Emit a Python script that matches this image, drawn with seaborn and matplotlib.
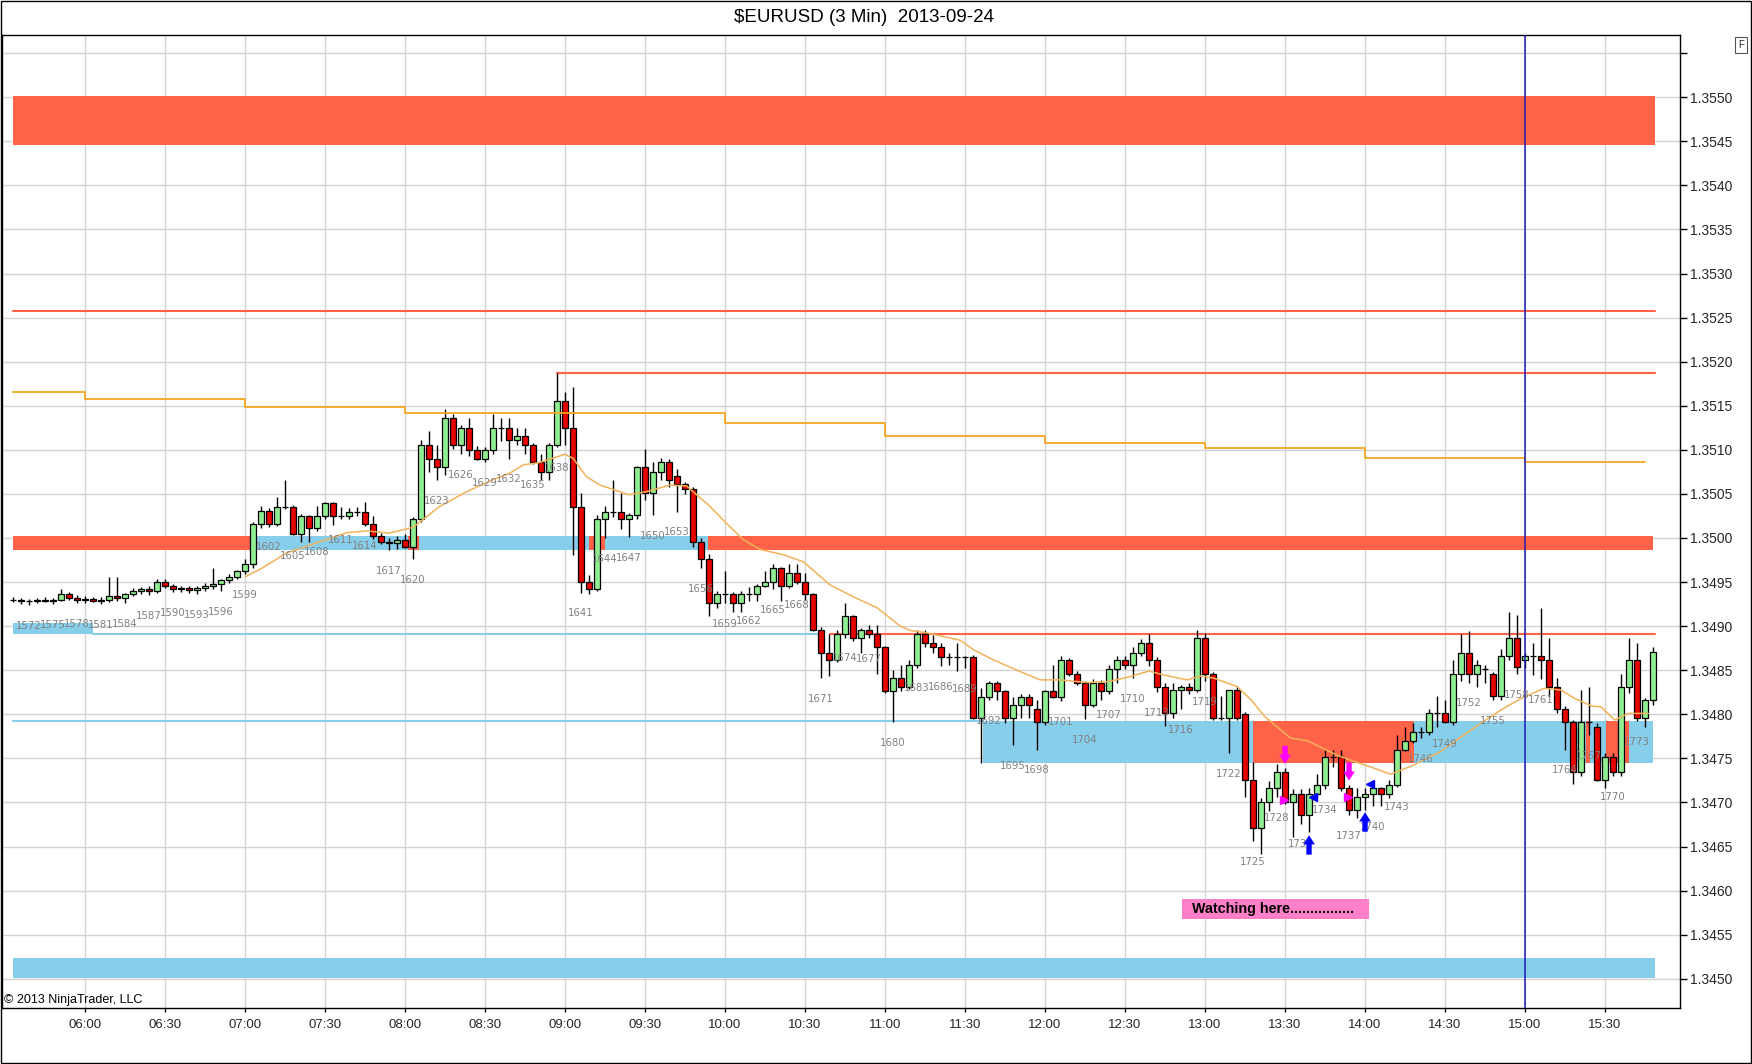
import numpy as np
import seaborn as sns
import matplotlib.pyplot as plt
from matplotlib.patches import Rectangle

# 3 minute bars numbered 1570..1775, bar 1599 is the 07:00 bar
bar_first = 1570
bar_0700 = 1599

# prices, in pips above 1.3400
opens = [93.0, 93.0, 92.9, 92.8, 93.0, 92.9, 93.0, 93.7, 93.2, 93.0,
         93.1, 92.9, 93.0, 93.4, 93.2, 93.7, 94.0, 94.2, 94.0, 95.0,
         94.5, 94.2, 94.3, 94.1, 94.3, 94.6, 94.8, 95.2, 95.6, 96.2,
         97.0, 101.6, 103.1, 101.6, 103.5, 103.5, 100.5, 102.5, 101.1, 102.5,
         104.0, 102.5, 102.5, 103.0, 103.0, 101.6, 100.2, 99.6, 99.4, 99.8,
         99.0, 102.1, 110.5, 109.0, 108.0, 113.6, 110.5, 112.5, 110.0, 109.0,
         110.0, 112.5, 112.5, 111.1, 111.6, 110.6, 108.6, 107.5, 110.5, 115.5,
         112.5, 103.5, 95.0, 94.2, 102.1, 103.0, 103.0, 102.1, 102.6, 108.0,
         105.1, 107.5, 108.6, 107.0, 106.1, 105.6, 99.6, 97.6, 92.6, 93.6,
         93.6, 92.6, 93.6, 93.6, 94.6, 95.0, 96.6, 94.6, 96.0, 95.0,
         93.6, 89.6, 87.0, 86.2, 89.1, 91.1, 88.6, 89.6, 89.1, 87.6,
         82.6, 84.1, 83.1, 85.6, 89.1, 88.1, 87.6, 86.5, 86.5, 86.5,
         86.5, 79.6, 82.0, 83.6, 82.6, 79.6, 81.1, 82.0, 80.6, 79.1,
         82.6, 82.0, 86.2, 84.6, 83.6, 81.1, 83.6, 82.6, 85.1, 86.2,
         85.6, 87.0, 88.1, 86.2, 83.1, 80.1, 82.7, 83.1, 82.7, 88.6,
         84.6, 79.6, 79.6, 82.7, 80.0, 72.6, 67.1, 70.1, 71.6, 73.5,
         70.1, 71.0, 68.6, 71.0, 72.0, 75.1, 75.1, 71.6, 69.2, 70.6,
         71.0, 71.6, 71.0, 72.0, 76.0, 77.0, 78.0, 78.0, 80.1, 80.1,
         79.1, 84.6, 87.0, 84.6, 85.1, 84.6, 82.1, 86.6, 88.6, 86.2,
         86.6, 86.6, 86.2, 83.1, 80.6, 79.1, 73.5, 79.1, 78.6, 72.6,
         75.1, 73.5, 83.1, 86.2, 79.6, 81.6]
highs = [93.3, 93.2, 93.1, 93.2, 93.3, 93.2, 94.2, 93.9, 93.5, 93.4,
         93.3, 93.3, 95.6, 95.6, 93.8, 94.3, 94.4, 94.5, 95.3, 95.4,
         94.8, 94.5, 94.6, 94.5, 94.9, 96.6, 95.3, 95.9, 96.4, 97.6,
         101.8, 103.6, 103.4, 104.7, 106.6, 103.7, 102.7, 102.6, 103.6, 104.1,
         104.1, 103.5, 103.4, 103.5, 104.1, 102.5, 100.6, 100.0, 100.2, 100.4,
         102.4, 111.1, 112.1, 110.6, 114.6, 114.1, 112.8, 113.6, 110.4, 110.3,
         114.1, 113.6, 113.6, 112.5, 112.5, 110.8, 109.5, 110.8, 118.7, 116.6,
         117.1, 105.1, 95.8, 102.6, 103.6, 106.6, 105.1, 102.8, 108.2, 110.1,
         108.6, 109.1, 109.0, 107.8, 106.4, 105.8, 100.0, 98.2, 94.0, 96.2,
         93.9, 94.0, 94.4, 94.8, 96.2, 97.0, 96.7, 97.0, 97.0, 96.0,
         93.8, 89.9, 89.1, 89.6, 92.6, 91.3, 89.8, 90.1, 90.1, 87.8,
         85.0, 85.6, 86.2, 89.6, 89.6, 89.0, 88.1, 86.9, 88.1, 86.6,
         86.7, 83.0, 83.8, 83.8, 82.8, 82.0, 82.3, 82.3, 81.6, 82.8,
         85.6, 86.6, 86.4, 84.9, 83.8, 84.0, 83.9, 85.6, 86.6, 86.6,
         87.6, 88.5, 89.1, 86.5, 83.6, 83.6, 83.3, 83.6, 89.6, 89.2,
         84.8, 82.1, 82.8, 83.2, 80.3, 74.6, 70.5, 72.4, 74.4, 73.9,
         71.5, 71.5, 71.6, 73.2, 75.9, 75.9, 76.0, 72.0, 71.6, 71.6,
         72.1, 71.8, 72.6, 77.6, 78.6, 79.0, 78.6, 80.6, 82.1, 81.6,
         86.2, 89.1, 89.5, 86.2, 85.6, 84.8, 87.4, 91.6, 91.3, 87.0,
         88.1, 92.1, 88.6, 84.1, 80.9, 79.3, 82.7, 83.1, 79.0, 75.6,
         75.6, 84.6, 88.6, 88.1, 81.8, 87.6]
lows = [92.7, 92.5, 92.4, 92.6, 92.7, 92.5, 92.8, 93.0, 92.6, 92.6,
        92.7, 92.5, 92.7, 92.9, 92.6, 93.4, 93.7, 93.5, 93.8, 94.3,
        93.9, 93.9, 93.8, 93.6, 94.0, 94.2, 94.0, 94.9, 95.3, 95.9,
        96.6, 101.1, 101.3, 101.4, 103.3, 100.3, 99.6, 99.6, 100.8, 102.2,
        101.5, 102.1, 102.2, 102.5, 101.4, 99.9, 99.3, 98.6, 98.8, 98.9,
        97.6, 101.8, 107.5, 106.6, 107.2, 110.1, 109.5, 109.3, 108.8, 108.6,
        109.5, 111.0, 109.0, 110.6, 109.5, 108.4, 106.6, 106.6, 110.3, 110.5,
        98.1, 93.8, 93.6, 94.0, 100.0, 102.4, 101.0, 100.1, 102.1, 104.3,
        102.6, 106.6, 105.8, 103.0, 105.0, 99.0, 96.6, 91.1, 92.1, 92.6,
        91.6, 91.6, 92.9, 92.9, 94.4, 94.2, 92.9, 94.3, 94.8, 93.0,
        89.4, 84.1, 84.3, 85.9, 88.7, 88.3, 87.0, 88.6, 84.6, 82.4,
        79.1, 82.6, 82.9, 85.3, 87.6, 86.9, 85.5, 85.6, 84.9, 85.2,
        79.5, 74.5, 81.6, 81.6, 79.0, 76.5, 79.6, 79.6, 76.0, 78.8,
        81.8, 81.5, 84.3, 83.3, 79.5, 80.8, 81.6, 82.3, 83.6, 85.1,
        84.1, 86.6, 85.5, 82.5, 78.7, 79.6, 80.6, 82.3, 82.5, 83.8,
        79.4, 79.4, 75.6, 79.4, 70.6, 65.6, 64.1, 69.0, 70.6, 69.8,
        66.1, 67.6, 66.6, 70.5, 71.5, 74.0, 71.3, 68.6, 68.2, 69.2,
        69.6, 69.6, 70.5, 71.8, 75.8, 76.8, 77.3, 77.6, 78.6, 79.0,
        78.8, 83.8, 83.6, 83.1, 83.6, 81.6, 81.6, 86.2, 84.6, 85.2,
        84.5, 84.0, 82.0, 80.2, 76.0, 72.1, 73.0, 77.6, 72.4, 71.6,
        73.0, 73.0, 82.4, 79.2, 78.6, 81.1]
closes = [93.0, 92.9, 92.8, 93.0, 92.9, 93.0, 93.7, 93.2, 93.0, 93.1,
          92.9, 93.0, 93.4, 93.2, 93.7, 94.0, 94.2, 94.0, 95.0, 94.5,
          94.2, 94.3, 94.1, 94.3, 94.6, 94.8, 95.2, 95.6, 96.2, 97.0,
          101.6, 103.1, 101.6, 103.5, 103.5, 100.5, 102.5, 101.1, 102.5, 104.0,
          102.5, 102.5, 103.0, 103.0, 101.6, 100.2, 99.6, 99.4, 99.8, 99.0,
          102.1, 110.5, 109.0, 108.0, 113.6, 110.5, 112.5, 110.0, 109.0, 110.0,
          112.5, 112.5, 111.1, 111.6, 110.6, 108.6, 107.5, 110.5, 115.5, 112.5,
          103.5, 95.0, 94.2, 102.1, 103.0, 103.0, 102.1, 102.6, 108.0, 105.1,
          107.5, 108.6, 106.6, 106.1, 105.6, 99.6, 97.6, 92.6, 93.6, 93.6,
          92.6, 93.6, 93.6, 94.6, 95.0, 96.6, 94.6, 96.0, 95.0, 93.6,
          89.6, 87.0, 86.2, 89.1, 91.1, 88.6, 89.6, 89.1, 87.6, 82.6,
          84.1, 83.1, 85.6, 89.1, 88.1, 87.6, 86.5, 86.5, 86.5, 86.5,
          79.6, 82.0, 83.6, 82.6, 79.6, 81.1, 82.0, 81.1, 79.1, 82.6,
          82.0, 86.2, 84.6, 83.6, 81.1, 83.6, 82.6, 85.1, 86.2, 85.6,
          87.0, 88.1, 86.2, 83.1, 80.1, 82.7, 83.1, 82.7, 88.6, 84.6,
          79.6, 79.6, 82.7, 79.6, 72.6, 67.1, 70.1, 71.6, 73.5, 70.1,
          71.0, 68.6, 71.0, 72.0, 75.1, 75.1, 71.6, 69.2, 70.6, 71.0,
          71.6, 71.0, 72.0, 76.0, 77.0, 78.0, 78.0, 80.1, 80.1, 79.1,
          84.6, 87.0, 84.6, 85.6, 85.1, 82.1, 86.6, 88.6, 85.4, 86.6,
          86.6, 86.2, 83.1, 80.6, 79.1, 73.5, 79.1, 79.1, 72.6, 75.1,
          73.5, 83.1, 86.2, 79.6, 81.6, 87.1]

# moving average curve (bar position, pips)
ma_bars = [1599, 1601, 1604.2, 1608, 1611.7, 1614.2, 1617, 1620, 1623.3, 1626.7,
           1630, 1632.1, 1633.8, 1635.8, 1639, 1640, 1641.7, 1643.4, 1647.0, 1649.2,
           1652.1, 1654.2, 1657.1, 1659.2, 1661.3, 1663.4, 1666.3, 1668.8, 1672.1, 1675.1,
           1678, 1680.9, 1682.2, 1684.2, 1688.4, 1690.1, 1692.6, 1695.5, 1698.4, 1700.9,
           1704.3, 1706.8, 1708.9, 1712, 1713.9, 1716.8, 1718.5, 1720.1, 1723.0, 1724.8,
           1726.4, 1729.7, 1731.8, 1735.9, 1740.1, 1742.2, 1745.1, 1748.4, 1753.5, 1756,
           1758.5, 1761.4, 1763.5, 1765.2, 1767.3, 1768.5, 1770.2, 1771.9, 1774.4]
ma_pips = [95.6, 96.5, 98.3, 99.45, 100.6, 100.8, 100.55, 101.2, 103.55, 105.25,
           106.6, 107.35, 108.3, 108.55, 109.5, 109.05, 106.95, 106.0, 104.9, 105.25,
           106.0, 105.9, 103.6, 101.65, 99.8, 98.7, 98.1, 97.3, 94.7, 93.3,
           92.1, 90.0, 89.5, 89.25, 88.4, 87.3, 86.15, 85.0, 83.9, 83.9,
           83.6, 83.7, 84.1, 84.9, 84.45, 83.9, 84.35, 84.1, 83.15, 81.6,
           79.8, 77.3, 77.0, 75.2, 73.9, 73.2, 74.25, 75.75, 79.0, 80.5,
           81.8, 82.95, 82.75, 81.8, 80.95, 80.85, 79.35, 80.1, 80.1]

# hourly stepped level
step_times = ["05:33", "06:00", "07:00", "08:00", "10:00", "11:00",
              "12:00", "13:00", "14:00", "15:00", "15:45"]
step_pips = [116.55, 115.8, 114.9, 114.15, 113.0, 111.6,
             110.8, 110.2, 109.1, 108.6, 108.6]

# zones / levels (pips), breaks given as bar positions
top_zone = (144.55, 150.1)
top_line = 125.7
high_line_start, high_line = 1638, 118.7
mid_zone = (98.6, 100.2)
mid_breaks = [1570, 1599.9, 1619.4, 1620.8, 1642.0, 1644.0, 1656.9, 1775]
mid_kinds = ["r", "b", "r", "b", "r", "b", "r"]
sup_level = 89.15
sup_band_top = 90.4
sup_breaks = [1570, 1580, 1670.5, 1672.1, 1775]
low_zone = (74.5, 79.25)
low_line_end = 1691.2
low_breaks = [1691.2, 1725.0, 1745.1, 1766.6, 1767.1, 1769.1, 1772.0, 1775]
low_kinds = ["b", "r", "b", "r", "b", "r", "b"]
bottom_zone = (50.05, 52.3)

down_arrow_bars = [1729, 1737]
up_arrow_bars = [1732, 1739]
pink_tri = ([1728.9, 1736.9], [70.25, 70.6])
blue_tri = ([1732.5, 1739.6], [70.6, 72.05])
note_bar, note_pips = 1727.8, 57.9

time_labels = ["06:00", "06:30", "07:00", "07:30", "08:00", "08:30", "09:00",
               "09:30", "10:00", "10:30", "11:00", "11:30", "12:00", "12:30",
               "13:00", "13:30", "14:00", "14:30", "15:00", "15:30"]


def to_min(b):
    return 420 + 3 * (np.asarray(b, dtype=float) - bar_0700)


def hhmm(s):
    h, m = s.split(":")
    return int(h) * 60 + int(m)


def px(p):
    return 1.34 + np.asarray(p, dtype=float) / 1e4


RED = "#ff6347"
BLUE = "#87ceeb"
KIND = {"r": RED, "b": BLUE}

sns.set_theme(style="white")
plt.rcParams["font.family"] = ["Liberation Sans", "DejaVu Sans"]

fig = plt.figure(figsize=(17.52, 10.64), dpi=100)
ax = fig.add_axes([2.2 / 1752, 1 - 1008.3 / 1064, (1680 - 2.2) / 1752, (1008.3 - 34.6) / 1064])

bars = np.arange(bar_first, bar_first + len(opens))
x = to_min(bars)
o, h, l, c = px(opens), px(highs), px(lows), px(closes)


def band(b0, b1, p0, p1, color):
    ax.fill_between(to_min([b0, b1]), px(p0), px(p1), color=color, lw=0, zorder=1)


def hline(b0, b1, p, color, lw):
    ax.plot(to_min([b0, b1]), px([p, p]), color=color, lw=lw, zorder=2)


b_start, b_end = bars[0], bars[-1] + 0.2
band(b_start, b_end, *top_zone, RED)
hline(b_start, b_end, top_line, RED, 1.5)
hline(high_line_start, b_end, high_line, RED, 1.5)
for k, kind in enumerate(mid_kinds):
    band(mid_breaks[k], mid_breaks[k + 1], *mid_zone, KIND[kind])
band(sup_breaks[0], sup_breaks[1], sup_level, sup_band_top, BLUE)
hline(sup_breaks[1], sup_breaks[2], sup_level, BLUE, 1.5)
hline(sup_breaks[3], b_end, sup_level, RED, 1.5)
hline(b_start, low_line_end, low_zone[1], BLUE, 1.5)
for k, kind in enumerate(low_kinds):
    band(low_breaks[k], low_breaks[k + 1], *low_zone, KIND[kind])
band(b_start, b_end, *bottom_zone, BLUE)

# candles
ax.vlines(x, l, h, color="black", lw=1, zorder=3)
body_col = np.where(c > o, "#90ee90", np.where(c < o, "#e60000", "black"))
ax.bar(x, np.abs(c - o), bottom=np.minimum(o, c), width=2.3, color=body_col,
       edgecolor="black", linewidth=0.9, zorder=4)

# stepped level and moving average
sns.lineplot(x=[hhmm(t) for t in step_times], y=px(step_pips), drawstyle="steps-post",
             color="#f5a623", lw=1.3, ax=ax, zorder=5)
sns.lineplot(x=to_min(ma_bars), y=px(ma_pips), color="#f2b25a", lw=1.1, ax=ax,
             sort=False, estimator=None, zorder=5)

ax.axvline(hhmm("15:00"), color="#1c1cb0", lw=1.1, zorder=5)

# bar numbers under every third bar
for b, xv, lv in zip(bars, x, l):
    if b % 3 == 0:
        ax.annotate(str(b), (xv, lv), xytext=(0, -15), textcoords="offset points",
                    ha="center", va="center", fontsize=7.3, color="#808080",
                    family="DejaVu Sans", zorder=6)

arrow_style = "simple,head_length=0.55,head_width=0.7,tail_width=0.32"
for b in down_arrow_bars:
    i = b - bar_first
    ax.annotate("", xy=(x[i], h[i]), xytext=(0, 16), textcoords="offset points",
                arrowprops=dict(arrowstyle=arrow_style, fc="magenta", ec="none",
                                shrinkA=0, shrinkB=3, mutation_scale=12), zorder=7)
for b in up_arrow_bars:
    i = b - bar_first
    ax.annotate("", xy=(x[i], l[i]), xytext=(0, -16), textcoords="offset points",
                arrowprops=dict(arrowstyle=arrow_style, fc="blue", ec="none",
                                shrinkA=0, shrinkB=2, mutation_scale=12), zorder=7)
ax.plot(to_min(pink_tri[0]), px(pink_tri[1]), ">", color="magenta", ms=5.5, ls="none", zorder=7)
ax.plot(to_min(blue_tri[0]), px(blue_tri[1]), "<", color="blue", ms=5.5, ls="none", zorder=7)

ax.text(to_min(note_bar), px(note_pips), "  Watching here................   ", ha="center",
        va="center", fontsize=10.3, fontweight="bold", color="black", zorder=7,
        bbox=dict(boxstyle="square,pad=0.2", fc="#ff80c8", ec="none"))

# axes
ax.set_xlim(329.0, 958.1)
ax.set_ylim(px(46.65), px(157.1))
ax.set_xticks([hhmm(t) for t in time_labels])
ax.set_xticklabels(time_labels, fontsize=9.5)
yt = np.round(np.arange(1.3450, 1.35551, 0.0005), 4)
ax.yaxis.tick_right()
ax.set_yticks(yt)
ax.set_yticklabels([f"{v:.4f}" if v < 1.3552 else "" for v in yt], fontsize=10)
ax.grid(True, color="#d3d3d3", lw=1)
ax.set_axisbelow(True)
ax.tick_params(axis="y", which="both", right=True, left=False, length=5, width=1,
               color="black", direction="out", pad=2)
ax.tick_params(axis="x", bottom=True, length=3, width=1, color="black", direction="out", pad=5)
for s in ax.spines.values():
    s.set_color("black")
    s.set_linewidth(1)
ax.set_xlabel("")
ax.set_ylabel("")

fig.text(864 / 1752, 1 - 17 / 1064, "$EURUSD (3 Min)  2013-09-24", ha="center",
         va="center", fontsize=13.5, color="black")
fig.text(4 / 1752, 1 - 1000 / 1064, "\u00a9 2013 NinjaTrader, LLC", ha="left",
         va="center", fontsize=9, color="black")
fig.text(1741 / 1752, 1 - 45 / 1064, "F", ha="center", va="center", fontsize=7,
         bbox=dict(boxstyle="square,pad=0.3", fc="white", ec="#555555", lw=0.8))
fig.patches.append(Rectangle((0.0004, 0.0006), 0.9992, 0.9988, transform=fig.transFigure,
                             fill=False, edgecolor="black", lw=1))

fig.savefig("out.png", dpi=100)
